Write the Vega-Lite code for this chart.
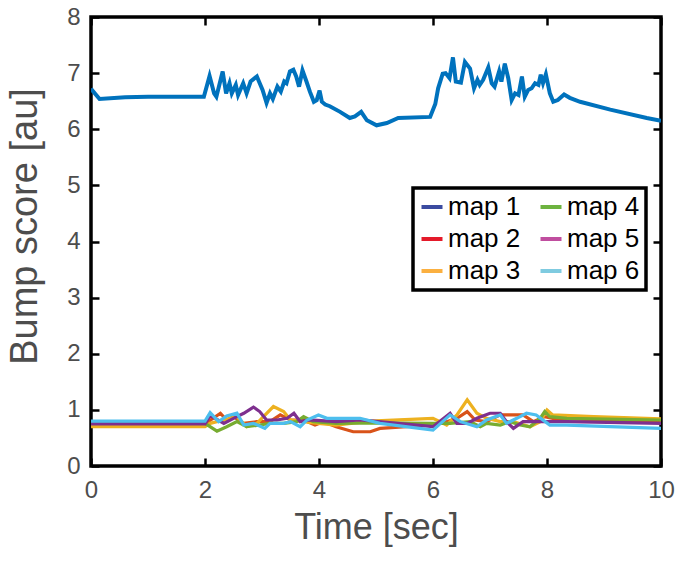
{
  "$schema": "https://vega.github.io/schema/vega-lite/v6.json",
  "width": 570,
  "height": 449,
  "autosize": {"type": "none"},
  "padding": {"left": 91, "top": 17, "right": 19, "bottom": 95},
  "background": "white",
  "config": {
    "view": {"stroke": "black", "strokeWidth": 3.5},
    "font": "Liberation Sans",
    "axis": {"grid": false, "domain": false, "tickColor": "black", "tickWidth": 2.5, "labelFlush": false, "labelFont": "Liberation Sans", "titleFont": "Liberation Sans", "labelFontSize": 24, "labelColor": "#4D4D4D", "titleFontSize": 36, "titleFontWeight": "normal", "titleColor": "#4D4D4D"}
  },
  "datasets": {
    "maps": [
      {"map": "map 1", "t": 0, "v": 6.72}, {"map": "map 1", "t": 0.15, "v": 6.54}, {"map": "map 1", "t": 0.6, "v": 6.57}, {"map": "map 1", "t": 1.0, "v": 6.58}, {"map": "map 1", "t": 1.98, "v": 6.58},
      {"map": "map 1", "t": 2.08, "v": 6.95}, {"map": "map 1", "t": 2.16, "v": 6.64}, {"map": "map 1", "t": 2.2, "v": 6.58}, {"map": "map 1", "t": 2.31, "v": 7.03}, {"map": "map 1", "t": 2.37, "v": 6.64},
      {"map": "map 1", "t": 2.43, "v": 6.82}, {"map": "map 1", "t": 2.47, "v": 6.64}, {"map": "map 1", "t": 2.54, "v": 6.79}, {"map": "map 1", "t": 2.58, "v": 6.61}, {"map": "map 1", "t": 2.67, "v": 6.82},
      {"map": "map 1", "t": 2.73, "v": 6.64}, {"map": "map 1", "t": 2.8, "v": 6.85}, {"map": "map 1", "t": 2.91, "v": 6.94}, {"map": "map 1", "t": 2.96, "v": 6.82}, {"map": "map 1", "t": 3.01, "v": 6.7},
      {"map": "map 1", "t": 3.08, "v": 6.47}, {"map": "map 1", "t": 3.14, "v": 6.64}, {"map": "map 1", "t": 3.19, "v": 6.54}, {"map": "map 1", "t": 3.27, "v": 6.76}, {"map": "map 1", "t": 3.33, "v": 6.67},
      {"map": "map 1", "t": 3.39, "v": 6.85}, {"map": "map 1", "t": 3.43, "v": 6.82}, {"map": "map 1", "t": 3.49, "v": 7.03}, {"map": "map 1", "t": 3.55, "v": 7.06}, {"map": "map 1", "t": 3.6, "v": 6.94},
      {"map": "map 1", "t": 3.65, "v": 6.76}, {"map": "map 1", "t": 3.71, "v": 7.05}, {"map": "map 1", "t": 3.78, "v": 6.85}, {"map": "map 1", "t": 3.84, "v": 6.67}, {"map": "map 1", "t": 3.91, "v": 6.49},
      {"map": "map 1", "t": 3.96, "v": 6.52}, {"map": "map 1", "t": 4.01, "v": 6.69}, {"map": "map 1", "t": 4.05, "v": 6.49}, {"map": "map 1", "t": 4.11, "v": 6.44}, {"map": "map 1", "t": 4.19, "v": 6.41},
      {"map": "map 1", "t": 4.37, "v": 6.31}, {"map": "map 1", "t": 4.54, "v": 6.2}, {"map": "map 1", "t": 4.63, "v": 6.23}, {"map": "map 1", "t": 4.74, "v": 6.31}, {"map": "map 1", "t": 4.84, "v": 6.16},
      {"map": "map 1", "t": 5.01, "v": 6.07}, {"map": "map 1", "t": 5.19, "v": 6.11}, {"map": "map 1", "t": 5.39, "v": 6.2}, {"map": "map 1", "t": 5.95, "v": 6.22}, {"map": "map 1", "t": 6.04, "v": 6.45},
      {"map": "map 1", "t": 6.09, "v": 6.73}, {"map": "map 1", "t": 6.17, "v": 6.99}, {"map": "map 1", "t": 6.22, "v": 7.0}, {"map": "map 1", "t": 6.29, "v": 6.91}, {"map": "map 1", "t": 6.35, "v": 7.28},
      {"map": "map 1", "t": 6.4, "v": 6.85}, {"map": "map 1", "t": 6.49, "v": 6.83}, {"map": "map 1", "t": 6.56, "v": 7.2}, {"map": "map 1", "t": 6.65, "v": 7.08}, {"map": "map 1", "t": 6.72, "v": 6.73},
      {"map": "map 1", "t": 6.78, "v": 6.88}, {"map": "map 1", "t": 6.82, "v": 6.79}, {"map": "map 1", "t": 6.88, "v": 6.88}, {"map": "map 1", "t": 6.97, "v": 7.1}, {"map": "map 1", "t": 7.03, "v": 6.82},
      {"map": "map 1", "t": 7.08, "v": 6.76}, {"map": "map 1", "t": 7.16, "v": 7.03}, {"map": "map 1", "t": 7.2, "v": 6.85}, {"map": "map 1", "t": 7.26, "v": 7.17}, {"map": "map 1", "t": 7.32, "v": 6.91},
      {"map": "map 1", "t": 7.38, "v": 6.52}, {"map": "map 1", "t": 7.44, "v": 6.64}, {"map": "map 1", "t": 7.5, "v": 6.61}, {"map": "map 1", "t": 7.56, "v": 6.94}, {"map": "map 1", "t": 7.61, "v": 6.58},
      {"map": "map 1", "t": 7.67, "v": 6.7}, {"map": "map 1", "t": 7.73, "v": 6.73}, {"map": "map 1", "t": 7.79, "v": 6.82}, {"map": "map 1", "t": 7.85, "v": 6.79}, {"map": "map 1", "t": 7.89, "v": 6.97},
      {"map": "map 1", "t": 7.93, "v": 6.82}, {"map": "map 1", "t": 7.98, "v": 6.98}, {"map": "map 1", "t": 8.05, "v": 6.64}, {"map": "map 1", "t": 8.11, "v": 6.49}, {"map": "map 1", "t": 8.19, "v": 6.52},
      {"map": "map 1", "t": 8.3, "v": 6.62}, {"map": "map 1", "t": 8.4, "v": 6.56}, {"map": "map 1", "t": 8.58, "v": 6.49}, {"map": "map 1", "t": 9.11, "v": 6.35}, {"map": "map 1", "t": 9.75, "v": 6.2}, {"map": "map 1", "t": 10, "v": 6.15},

      {"map": "map 2", "t": 0, "v": 0.75}, {"map": "map 2", "t": 2.0, "v": 0.75}, {"map": "map 2", "t": 2.27, "v": 0.94}, {"map": "map 2", "t": 2.38, "v": 0.82}, {"map": "map 2", "t": 2.5, "v": 0.88},
      {"map": "map 2", "t": 2.68, "v": 0.76}, {"map": "map 2", "t": 2.91, "v": 0.79}, {"map": "map 2", "t": 3.14, "v": 0.79}, {"map": "map 2", "t": 3.32, "v": 0.91}, {"map": "map 2", "t": 3.5, "v": 0.82},
      {"map": "map 2", "t": 3.73, "v": 0.82}, {"map": "map 2", "t": 3.93, "v": 0.73}, {"map": "map 2", "t": 4.08, "v": 0.79}, {"map": "map 2", "t": 4.3, "v": 0.7}, {"map": "map 2", "t": 4.6, "v": 0.61},
      {"map": "map 2", "t": 4.9, "v": 0.61}, {"map": "map 2", "t": 5.07, "v": 0.67}, {"map": "map 2", "t": 6.0, "v": 0.73}, {"map": "map 2", "t": 6.24, "v": 0.79}, {"map": "map 2", "t": 6.42, "v": 0.85},
      {"map": "map 2", "t": 6.6, "v": 0.97}, {"map": "map 2", "t": 6.74, "v": 0.82}, {"map": "map 2", "t": 6.94, "v": 0.79}, {"map": "map 2", "t": 7.18, "v": 0.91}, {"map": "map 2", "t": 7.41, "v": 0.91},
      {"map": "map 2", "t": 7.58, "v": 0.91}, {"map": "map 2", "t": 7.76, "v": 0.79}, {"map": "map 2", "t": 7.96, "v": 0.88}, {"map": "map 2", "t": 8.1, "v": 0.85}, {"map": "map 2", "t": 10, "v": 0.79},

      {"map": "map 3", "t": 0, "v": 0.7}, {"map": "map 3", "t": 2.0, "v": 0.7}, {"map": "map 3", "t": 2.09, "v": 0.76}, {"map": "map 3", "t": 2.33, "v": 0.82}, {"map": "map 3", "t": 2.56, "v": 0.88},
      {"map": "map 3", "t": 2.73, "v": 0.7}, {"map": "map 3", "t": 2.91, "v": 0.76}, {"map": "map 3", "t": 3.2, "v": 1.06}, {"map": "map 3", "t": 3.38, "v": 0.97}, {"map": "map 3", "t": 3.5, "v": 0.82},
      {"map": "map 3", "t": 3.73, "v": 0.79}, {"map": "map 3", "t": 3.99, "v": 0.76}, {"map": "map 3", "t": 4.3, "v": 0.73}, {"map": "map 3", "t": 4.9, "v": 0.8}, {"map": "map 3", "t": 6.0, "v": 0.85},
      {"map": "map 3", "t": 6.24, "v": 0.73}, {"map": "map 3", "t": 6.42, "v": 0.91}, {"map": "map 3", "t": 6.6, "v": 1.18}, {"map": "map 3", "t": 6.77, "v": 0.94}, {"map": "map 3", "t": 6.94, "v": 0.85},
      {"map": "map 3", "t": 7.18, "v": 0.79}, {"map": "map 3", "t": 7.41, "v": 0.79}, {"map": "map 3", "t": 7.7, "v": 0.7}, {"map": "map 3", "t": 7.88, "v": 0.79}, {"map": "map 3", "t": 8.0, "v": 1.0},
      {"map": "map 3", "t": 8.1, "v": 0.91}, {"map": "map 3", "t": 8.82, "v": 0.88}, {"map": "map 3", "t": 10, "v": 0.84},

      {"map": "map 4", "t": 0, "v": 0.76}, {"map": "map 4", "t": 2.0, "v": 0.76}, {"map": "map 4", "t": 2.21, "v": 0.62}, {"map": "map 4", "t": 2.38, "v": 0.7}, {"map": "map 4", "t": 2.56, "v": 0.79},
      {"map": "map 4", "t": 2.73, "v": 0.7}, {"map": "map 4", "t": 2.96, "v": 0.73}, {"map": "map 4", "t": 3.14, "v": 0.76}, {"map": "map 4", "t": 3.38, "v": 0.76}, {"map": "map 4", "t": 3.61, "v": 0.79},
      {"map": "map 4", "t": 3.73, "v": 0.88}, {"map": "map 4", "t": 3.9, "v": 0.79}, {"map": "map 4", "t": 4.3, "v": 0.76}, {"map": "map 4", "t": 4.9, "v": 0.77}, {"map": "map 4", "t": 6.0, "v": 0.76},
      {"map": "map 4", "t": 6.3, "v": 0.76}, {"map": "map 4", "t": 6.65, "v": 0.79}, {"map": "map 4", "t": 6.83, "v": 0.7}, {"map": "map 4", "t": 6.94, "v": 0.76}, {"map": "map 4", "t": 7.18, "v": 0.73},
      {"map": "map 4", "t": 7.35, "v": 0.79}, {"map": "map 4", "t": 7.53, "v": 0.73}, {"map": "map 4", "t": 7.7, "v": 0.7}, {"map": "map 4", "t": 7.88, "v": 0.85}, {"map": "map 4", "t": 7.96, "v": 0.97},
      {"map": "map 4", "t": 8.05, "v": 0.88}, {"map": "map 4", "t": 8.35, "v": 0.85}, {"map": "map 4", "t": 10, "v": 0.82},

      {"map": "map 5", "t": 0, "v": 0.75}, {"map": "map 5", "t": 2.0, "v": 0.75}, {"map": "map 5", "t": 2.09, "v": 0.9}, {"map": "map 5", "t": 2.33, "v": 0.76}, {"map": "map 5", "t": 2.56, "v": 0.88},
      {"map": "map 5", "t": 2.68, "v": 0.94}, {"map": "map 5", "t": 2.85, "v": 1.05}, {"map": "map 5", "t": 2.96, "v": 0.97}, {"map": "map 5", "t": 3.08, "v": 0.82}, {"map": "map 5", "t": 3.26, "v": 0.82},
      {"map": "map 5", "t": 3.44, "v": 0.85}, {"map": "map 5", "t": 3.56, "v": 0.94}, {"map": "map 5", "t": 3.67, "v": 0.79}, {"map": "map 5", "t": 3.84, "v": 0.82}, {"map": "map 5", "t": 4.3, "v": 0.79},
      {"map": "map 5", "t": 4.72, "v": 0.82}, {"map": "map 5", "t": 6.0, "v": 0.7}, {"map": "map 5", "t": 6.3, "v": 0.94}, {"map": "map 5", "t": 6.42, "v": 0.76}, {"map": "map 5", "t": 6.6, "v": 0.76},
      {"map": "map 5", "t": 6.77, "v": 0.85}, {"map": "map 5", "t": 7.0, "v": 0.94}, {"map": "map 5", "t": 7.18, "v": 0.94}, {"map": "map 5", "t": 7.29, "v": 0.79}, {"map": "map 5", "t": 7.41, "v": 0.67},
      {"map": "map 5", "t": 7.58, "v": 0.79}, {"map": "map 5", "t": 7.76, "v": 0.79}, {"map": "map 5", "t": 8.0, "v": 0.79}, {"map": "map 5", "t": 8.35, "v": 0.79}, {"map": "map 5", "t": 10, "v": 0.76},

      {"map": "map 6", "t": 0, "v": 0.8}, {"map": "map 6", "t": 2.0, "v": 0.8}, {"map": "map 6", "t": 2.09, "v": 0.95}, {"map": "map 6", "t": 2.24, "v": 0.79}, {"map": "map 6", "t": 2.38, "v": 0.89},
      {"map": "map 6", "t": 2.56, "v": 0.94}, {"map": "map 6", "t": 2.68, "v": 0.73}, {"map": "map 6", "t": 2.85, "v": 0.76}, {"map": "map 6", "t": 3.05, "v": 0.67}, {"map": "map 6", "t": 3.14, "v": 0.76},
      {"map": "map 6", "t": 3.38, "v": 0.76}, {"map": "map 6", "t": 3.5, "v": 0.79}, {"map": "map 6", "t": 3.67, "v": 0.7}, {"map": "map 6", "t": 3.79, "v": 0.82}, {"map": "map 6", "t": 3.99, "v": 0.91},
      {"map": "map 6", "t": 4.14, "v": 0.85}, {"map": "map 6", "t": 4.72, "v": 0.85}, {"map": "map 6", "t": 5.07, "v": 0.76}, {"map": "map 6", "t": 6.0, "v": 0.64}, {"map": "map 6", "t": 6.3, "v": 0.91},
      {"map": "map 6", "t": 6.48, "v": 0.79}, {"map": "map 6", "t": 6.77, "v": 0.7}, {"map": "map 6", "t": 6.94, "v": 0.82}, {"map": "map 6", "t": 7.18, "v": 0.91}, {"map": "map 6", "t": 7.29, "v": 0.76},
      {"map": "map 6", "t": 7.47, "v": 0.85}, {"map": "map 6", "t": 7.64, "v": 0.94}, {"map": "map 6", "t": 7.81, "v": 0.91}, {"map": "map 6", "t": 8.05, "v": 0.73}, {"map": "map 6", "t": 8.35, "v": 0.73}, {"map": "map 6", "t": 10, "v": 0.67}
    ]
  },
  "data": {"name": "maps"},
  "layer": [
    {
      "mark": {"type": "line", "strokeWidth": 1.5, "clip": true},
      "encoding": {
        "x": {"field": "t", "type": "quantitative", "scale": {"domain": [0, 10], "nice": false},
              "axis": {"orient": "bottom", "values": [0, 2, 4, 6, 8, 10], "tickSize": -8, "labelPadding": 20, "title": "Time [sec]", "titlePadding": 8}},
        "y": {"field": "v", "type": "quantitative", "scale": {"domain": [0, 8], "nice": false, "zero": false},
              "axis": {"orient": "left", "values": [0, 1, 2, 3, 4, 5, 6, 7, 8], "tickSize": -8, "labelPadding": 19, "title": "Bump score [au]", "titlePadding": 22, "titleFontSize": 38, "titleY": 209}},
        "stroke": {"field": "map", "type": "nominal",
          "scale": {"domain": ["map 1", "map 2", "map 3", "map 4", "map 5", "map 6"], "range": ["#3B4BA0", "#E41A2A", "#FBB040", "#6DB33F", "#C04E9F", "#7FCBE0"]},
          "legend": {"orient": "none", "legendX": 322, "legendY": 171, "columns": 2, "title": null, "direction": "vertical",
            "symbolType": "stroke", "symbolSize": 441, "symbolStrokeWidth": 4,
            "labelFontSize": 26, "labelFont": "Liberation Sans", "labelColor": "black", "labelOffset": 3,
            "columnPadding": 11, "rowPadding": 6, "padding": 6,
            "strokeColor": "black", "fillColor": "white",
            "encode": {"legend": {"update": {"strokeWidth": {"value": 3.5}}}}}
        }
      }
    },
    {
      "transform": [{"filter": "datum.map !== 'map 1'"}],
      "mark": {"type": "line", "strokeWidth": 3.2, "clip": true},
      "encoding": {
        "x": {"field": "t", "type": "quantitative", "axis": null},
        "y": {"field": "v", "type": "quantitative", "axis": null},
        "color": {"field": "map", "type": "nominal",
          "scale": {"domain": ["map 1", "map 2", "map 3", "map 4", "map 5", "map 6"], "range": ["#0072BD", "#D95319", "#EDB120", "#77AC30", "#7E2F8E", "#4DBEEE"]},
          "legend": null}
      }
    },
    {
      "transform": [{"filter": "datum.map === 'map 1'"}],
      "mark": {"type": "line", "strokeWidth": 4, "clip": true},
      "encoding": {
        "x": {"field": "t", "type": "quantitative", "axis": {"orient": "top", "values": [0, 2, 4, 6, 8, 10], "tickSize": -8, "labels": false, "title": null}},
        "y": {"field": "v", "type": "quantitative", "axis": {"orient": "right", "values": [0, 1, 2, 3, 4, 5, 6, 7, 8], "tickSize": -8, "labels": false, "title": null}},
        "color": {"field": "map", "type": "nominal", "legend": null}
      }
    }
  ],
  "resolve": {"axis": {"x": "independent", "y": "independent"}}
}
